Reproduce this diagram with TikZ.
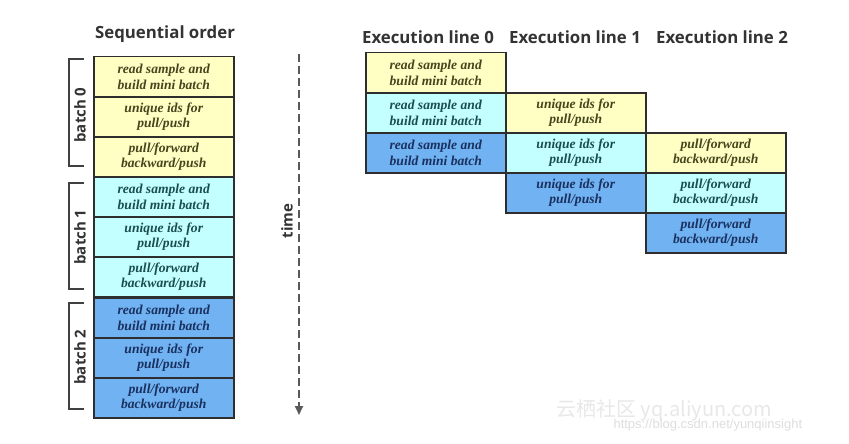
\documentclass[tikz,border=0pt]{standalone}
\usepackage{fontspec}
\setmainfont{Liberation Serif}
\newfontfamily\titlefont{Open Sans}
\newfontfamily\cjkfont{Noto Sans CJK SC}
\newfontfamily\wmfont{Liberation Sans}
\usetikzlibrary{arrows.meta}
\definecolor{yfill}{HTML}{FFFFC4}
\definecolor{ytext}{HTML}{45451E}
\definecolor{cfill}{HTML}{C4FFFF}
\definecolor{ctext}{HTML}{1A4E4E}
\definecolor{bfill}{HTML}{70B2F2}
\definecolor{btext}{HTML}{1A305E}
\definecolor{edge}{HTML}{2E2E2E}
\begin{document}
\begin{tikzpicture}[x=1pt,y=-1pt,
  stage/.style={draw=edge,line width=1.5pt,anchor=north west,minimum width=140pt,minimum height=40pt,inner sep=0pt,align=center,font=\fontsize{13.6}{15.5}\selectfont\bfseries\itshape},
  ys/.style={stage,fill=yfill,text=ytext},
  cs/.style={stage,fill=cfill,text=ctext},
  bs/.style={stage,fill=bfill,text=btext},
  ttl/.style={font=\titlefont\fontsize{16.8}{19}\selectfont\bfseries,text=black!80},
  blab/.style={font=\titlefont\fontsize{15}{17}\selectfont\bfseries,text=black!80,rotate=90},
  brk/.style={line width=1.4pt,draw=black!75}]
\useasboundingbox (0,0) rectangle (849,444);
\fill[white] (0,0) rectangle (849,444);
% left column
\node[ttl] (seqt) at (165,34) {Sequential order};
\node[ys] (s1) at (93,56) {read sample and\\build mini batch};
\node[ys] (s2) at (93,96) {unique ids for\\pull/push};
\node[ys] (s3) at (93,136) {pull/forward\\backward/push};
\node[cs] (s4) at (93,176) {read sample and\\build mini batch};
\node[cs] (s5) at (93,216) {unique ids for\\pull/push};
\node[cs] (s6) at (93,256) {pull/forward\\backward/push};
\node[bs] (s7) at (93,297) {read sample and\\build mini batch};
\node[bs] (s8) at (93,337) {unique ids for\\pull/push};
\node[bs] (s9) at (93,377) {pull/forward\\backward/push};
% brackets
\draw[brk] (84,59) -- (69,59) -- (69,166) -- (84,166);
\node[blab] (b0) at (80,115) {batch 0};
\draw[brk] (84,183) -- (69,183) -- (69,289) -- (84,289);
\node[blab] (b1) at (80,237) {batch 1};
\draw[brk] (84,303) -- (69,303) -- (69,409) -- (84,409);
\node[blab] (b2) at (80,357) {batch 2};
% time arrow
\coordinate (ta) at (299,54);
\coordinate (tb) at (299,415);
\draw[line width=1.8pt,draw=black!65,dash pattern=on 8pt off 4pt,-{Triangle[length=9pt,width=8pt]}] (ta) -- (tb);
\node[blab] (time) at (287,221) {time};
% execution lines
\node[ttl] (e0) at (428,37) {Execution line 0};
\node[ttl] (e1) at (575,37) {Execution line 1};
\node[ttl] (e2) at (722,37) {Execution line 2};
\node[ys] (a1) at (365,52) {read sample and\\build mini batch};
\node[cs] (a2) at (365,92) {read sample and\\build mini batch};
\node[bs] (a3) at (365,132) {read sample and\\build mini batch};
\node[ys] (c1) at (505,92) {unique ids for\\pull/push};
\node[cs] (c2) at (505,132) {unique ids for\\pull/push};
\node[bs] (c3) at (505,172) {unique ids for\\pull/push};
\node[ys] (d1) at (645,132) {pull/forward\\backward/push};
\node[cs] (d2) at (645,172) {pull/forward\\backward/push};
\node[bs] (d3) at (645,212) {pull/forward\\backward/push};
% watermark
\node[anchor=west,text=black!9,font=\cjkfont\fontsize{20}{22}\selectfont] (wm1) at (553,410) {云栖社区 yq.aliyun.com};
\node[anchor=west,text=black!13,font=\wmfont\fontsize{13}{14}\selectfont] (wm2) at (610,425) {https://blog.csdn.net/yunqiinsight};
\end{tikzpicture}
\end{document}
